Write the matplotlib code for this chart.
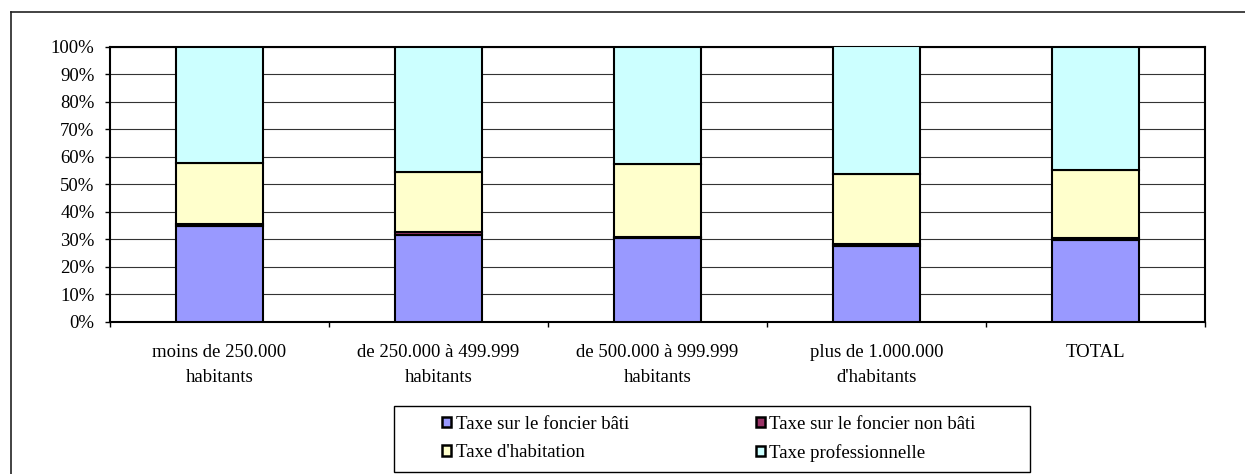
import numpy as np
import matplotlib.pyplot as plt
from matplotlib.patches import Patch, Rectangle
from matplotlib.lines import Line2D
from matplotlib.ticker import FixedLocator, FuncFormatter

plt.rcParams['font.family'] = ['Liberation Serif', 'DejaVu Serif']

# Data (percent shares)
categories = ["moins de 250.000\nhabitants", "de 250.000 à 499.999\nhabitants",
              "de 500.000 à 999.999\nhabitants", "plus de 1.000.000\nd'habitants", "TOTAL"]
bati = [35.0, 31.7, 30.4, 27.6, 29.8]
non_bati = [0.4, 0.8, 0.6, 0.8, 0.8]
habitation = [22.3, 21.8, 26.2, 25.5, 24.6]
professionnelle = [42.3, 45.7, 42.8, 46.1, 44.8]

series_names = ["Taxe sur le foncier bâti", "Taxe sur le foncier non bâti",
                "Taxe d'habitation", "Taxe professionnelle"]
series_colors = ["#9999FF", "#993366", "#FFFFCC", "#CCFFFF"]

FS = 13.5
W, H = 1245, 474
fig = plt.figure(figsize=(W / 100, H / 100), dpi=100)
ax = fig.add_axes([110 / W, (H - 322) / H, (1205 - 110) / W, (322 - 46.5) / H])

x = np.arange(len(categories))
bottom = np.zeros(len(categories))
for vals, col in zip([bati, non_bati, habitation, professionnelle], series_colors):
    ax.bar(x, vals, width=0.4, bottom=bottom, color=col, edgecolor='black',
           linewidth=1.5, zorder=3)
    bottom += np.array(vals)

ax.set_xlim(-0.5, len(categories) - 0.5)
ax.set_ylim(0, 100)
ax.set_yticks(np.arange(0, 101, 10))
ax.yaxis.set_major_formatter(FuncFormatter(lambda v, p: f"{int(v)}%"))
ax.yaxis.grid(True, color='#333333', linewidth=0.8, zorder=0)
ax.tick_params(axis='y', direction='out', length=3.6, width=1, pad=7.5, labelsize=FS)

ax.set_xticks(x)
ax.set_xticklabels(categories, fontsize=FS, linespacing=1.62)
ax.tick_params(axis='x', which='major', length=0, pad=16)
ax.xaxis.set_minor_locator(FixedLocator(np.arange(-0.5, len(categories), 1.0)))
ax.tick_params(axis='x', which='minor', direction='out', length=3.6, width=1)

for s in ax.spines.values():
    s.set_linewidth(1.5)
    s.set_color('black')

# outer chart frame (top and left visible)
fig.add_artist(Line2D([10.5 / W, 1], [1 - 11.7 / H, 1 - 11.7 / H], color='#222222', lw=1.2))
fig.add_artist(Line2D([10.5 / W, 10.5 / W], [0, 1 - 11.7 / H], color='#222222', lw=1.2))

# legend
handles = [Patch(facecolor=c, edgecolor='black', linewidth=1.8) for c in series_colors]
order = [0, 2, 1, 3]
fig.legend([handles[i] for i in order], [series_names[i] for i in order],
           ncol=2, loc='center left', bbox_to_anchor=(433 / W, 1 - 439 / H),
           frameon=False, fontsize=FS, borderpad=0, handlelength=0.45,
           handleheight=0.45, handletextpad=0.25, columnspacing=6.8,
           labelspacing=0.6)
fig.add_artist(Rectangle((394 / W, 1 - 472 / H), 636 / W, 66 / H, transform=fig.transFigure,
                         fill=False, edgecolor='black', linewidth=1))

fig.savefig("out.png", dpi=100)
